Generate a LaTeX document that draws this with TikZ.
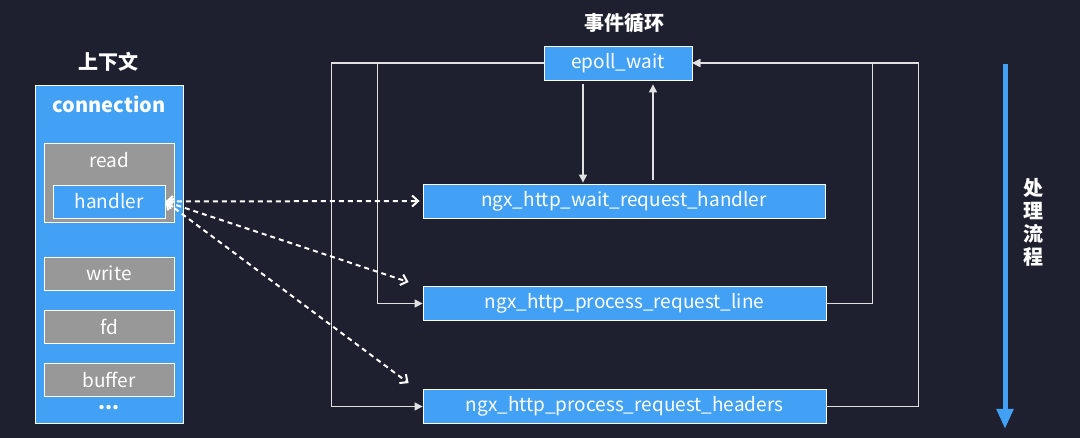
\documentclass[tikz,border=0pt]{standalone}
\usepackage{fontspec}
\setmainfont{Noto Sans CJK SC}
\usepackage{xcolor}
\usetikzlibrary{arrows.meta,positioning,calc}
\definecolor{bgnavy}{RGB}{30,32,48}
\definecolor{ctxblue}{RGB}{66,161,245}
\definecolor{fieldgray}{RGB}{152,152,152}
\definecolor{wire}{RGB}{225,225,225}
\tikzset{
  ctx/.style={draw=white, line width=0.8pt, fill=ctxblue, minimum width=148pt, minimum height=338pt},
  field/.style={draw=white, line width=0.8pt, fill=fieldgray, text=white, minimum width=130pt, minimum height=33pt, inner sep=0pt, font=\fontsize{19}{22}\selectfont},
  hook/.style={draw=white, line width=0.8pt, fill=ctxblue, text=white, minimum width=112pt, minimum height=33pt, inner sep=0pt, font=\fontsize{19}{22}\selectfont},
  func/.style={draw=white, line width=0.8pt, fill=ctxblue, text=white, minimum width=403pt, minimum height=34pt, inner sep=0pt, font=\fontsize{19}{22}\selectfont},
  title/.style={text=white, inner sep=0pt, font=\bfseries\fontsize{20}{24}\selectfont},
  loop/.style={draw=wire, line width=1.2pt, -{Triangle[length=8pt,width=8pt]}},
  link/.style={draw=white, line width=2pt, dash pattern=on 5pt off 4pt, {Straight Barb[length=6pt,width=11pt]}-{Straight Barb[length=6pt,width=11pt]}},
  flow/.style={draw=ctxblue, line width=5pt, -{Triangle[length=20pt,width=16pt]}}
}
\begin{document}
\begin{tikzpicture}[x=1pt, y=-1pt]
  \fill[bgnavy] (0,0) rectangle (1080,438);
  \useasboundingbox (0,0) rectangle (1080,438);

  % context side
  \node[title] (ctxtitle) at (108,62) {上下文};
  \node[ctx] (conn) at (109,254) {};
  \node[title] (conntext) at (109,104) {connection};
  \node[field, minimum height=79pt] (read) at (109,182.5) {};
  \node[text=white, inner sep=0pt, font=\fontsize{19}{22}\selectfont] (readtext) at (109,160) {read};
  \node[hook] (handler) at (109,201.5) {handler};
  \node[field] (write) at (109,273.5) {write};
  \node[field] (fd) at (109,326.5) {fd};
  \node[field] (buffer) at (109,379.5) {buffer};
  \node[title] (more) at (109,408) {...};

  % event loop side
  \node[title] (looptitle) at (624,23) {事件循环};
  \node[func, minimum width=148pt] (epoll) at (618,63) {epoll\_wait};
  \node[func, minimum width=402pt] (waith) at (624,201) {ngx\_http\_wait\_request\_handler};
  \node[func] (line) at (624.5,303.5) {ngx\_http\_process\_request\_line};
  \node[func] (hdrs) at (624.5,406.5) {ngx\_http\_process\_request\_headers};

  \draw[loop] (epoll.west) -- ++(-212,0) |- (hdrs.west);
  \draw[loop] (epoll.west) -- ++(-166,0) |- (line.west);
  \draw[loop] (line.east) -- ++(46,0) |- (epoll.east);
  \draw[loop] (hdrs.east) -- ++(92,0) |- (epoll.east);
  \draw[loop, shorten <=4pt, shorten >=1pt] ([xshift=-35pt]epoll.south) -- ([xshift=-35pt]epoll.south |- waith.north);
  \draw[loop, shorten <=4pt, shorten >=4pt] ([xshift=35pt]epoll.south |- waith.north) -- ([xshift=35pt]epoll.south);

  % handler links
  \draw[link, shorten >=3pt] (handler.east) -- (waith.west);
  \draw[link] (handler.east) -- ([xshift=-14pt, yshift=4pt]line.north west);
  \draw[link] (handler.east) -- ([xshift=-14pt, yshift=6pt]hdrs.north west);

  % processing order
  \coordinate (flowtop) at (1005,64);
  \coordinate (flowend) at (1005,429);
  \draw[flow] (flowtop) -- (flowend);
  \node[title, align=center, font=\bfseries\fontsize{20}{23}\selectfont] (flowtext) at (1033,222) {处\\理\\流\\程};
\end{tikzpicture}
\end{document}
